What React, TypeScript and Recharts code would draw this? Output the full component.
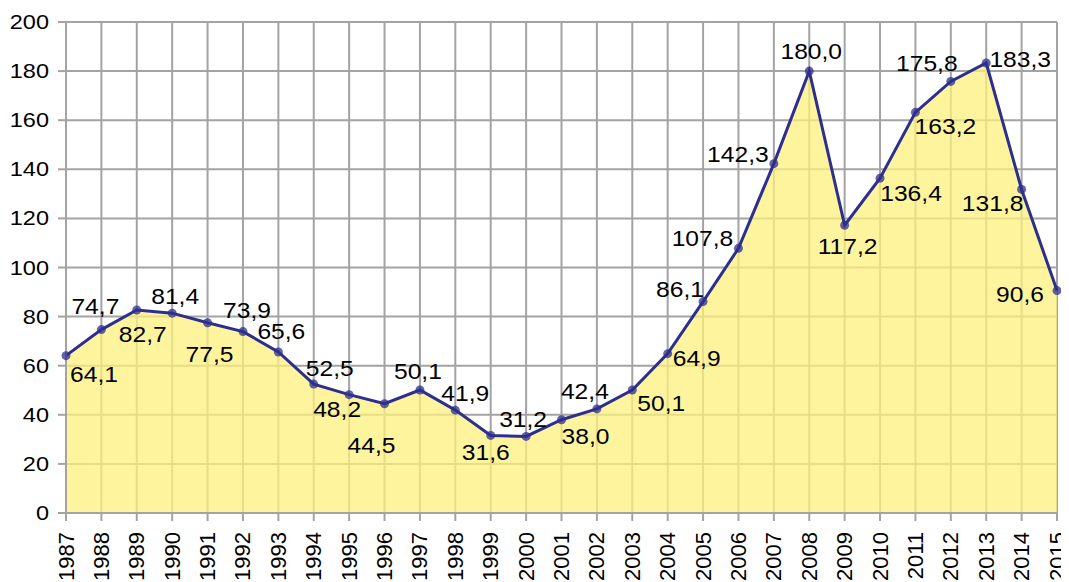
import {
  ComposedChart,
  Area,
  XAxis,
  YAxis,
  CartesianGrid,
  LabelList,
} from "recharts";

const YEARS = [
  "1987", "1988", "1989", "1990", "1991", "1992", "1993", "1994", "1995", "1996",
  "1997", "1998", "1999", "2000", "2001", "2002", "2003", "2004", "2005", "2006",
  "2007", "2008", "2009", "2010", "2011", "2012", "2013", "2014", "2015",
];

const VALUES = [
  64.1, 74.7, 82.7, 81.4, 77.5, 73.9, 65.6, 52.5, 48.2, 44.5,
  50.1, 41.9, 31.6, 31.2, 38.0, 42.4, 50.1, 64.9, 86.1, 107.8,
  142.3, 180.0, 117.2, 136.4, 163.2, 175.8, 183.3, 131.8, 90.6,
];

const Y_TICKS = [0, 20, 40, 60, 80, 100, 120, 140, 160, 180, 200];

// where each value label sits relative to its point (text centre)
const LABEL_OFFSETS: [number, number][] = [
  [28, 19], [-6, -23], [6, 24], [3, -17], [2, 32], [4, -21], [3, -20], [16, -16],
  [-12, 15], [-13, 42], [-2, -19], [10, -17], [-5, 17], [-3, -17], [24, 17],
  [-12, -17], [29, 13], [29, 5], [-23, -12], [-36, -10], [-36, -9], [2, -20],
  [3, 21], [31, 15], [30, 14], [-24, -18], [34, -4], [-29, 14], [-37, 4],
];

const data = YEARS.map((year, i) => ({ year, value: VALUES[i] }));

const FONT = "'Liberation Sans', Arial, sans-serif";
const GRID = "#a3a3a3";
const LINE = "#2d2f8e";
const STRETCH = 1.12; // the source text is a bit wider than plain Arial

function fmt(v: number) {
  return v.toFixed(1).replace(".", ",");
}

// eslint-disable-next-line @typescript-eslint/no-explicit-any
function ValueLabel(props: any) {
  const { x, y, value, index } = props;
  const [dx, dy] = LABEL_OFFSETS[index] ?? [0, -16];
  return (
    <text
      transform={`translate(${x + dx},${y + dy}) scale(${STRETCH},1)`}
      textAnchor="middle"
      dominantBaseline="central"
      fontSize={22}
      fontFamily={FONT}
      fill="#000"
    >
      {fmt(value)}
    </text>
  );
}

// eslint-disable-next-line @typescript-eslint/no-explicit-any
function ValueTick({ x, y, payload }: any) {
  return (
    <text
      transform={`translate(${x - 7},${y}) scale(${STRETCH},1)`}
      textAnchor="end"
      dominantBaseline="central"
      fontSize={21}
      fontFamily={FONT}
      fill="#000"
    >
      {payload.value}
    </text>
  );
}

// eslint-disable-next-line @typescript-eslint/no-explicit-any
function YearTick({ x, y, payload }: any) {
  return (
    <text
      transform={`translate(${x},${y + 9}) rotate(-90)`}
      textAnchor="end"
      dominantBaseline="central"
      fontSize={22}
      fontFamily={FONT}
      fill="#000"
    >
      {payload.value}
    </text>
  );
}

export default function App() {
  return (
    <div style={{ width: 1061, height: 574 }}>
      <ComposedChart
        width={1061}
        height={574}
        data={data}
        margin={{ top: 14, right: 12, bottom: 0, left: 0 }}
      >
        <CartesianGrid stroke={GRID} strokeWidth={2} />
        <XAxis
          dataKey="year"
          height={69}
          interval={0}
          tick={<YearTick />}
          tickSize={8}
          stroke={GRID}
          axisLine={{ stroke: GRID, strokeWidth: 2 }}
          tickLine={{ stroke: GRID, strokeWidth: 2 }}
        />
        <YAxis
          width={58}
          domain={[0, 200]}
          ticks={Y_TICKS}
          interval={0}
          tickSize={8}
          tickMargin={2}
          stroke={GRID}
          axisLine={{ stroke: GRID, strokeWidth: 2 }}
          tickLine={{ stroke: GRID, strokeWidth: 2 }}
          tick={<ValueTick />}
        />
        <Area
          type="linear"
          dataKey="value"
          stroke={LINE}
          strokeWidth={3}
          fill="#fff07e"
          fillOpacity={0.75}
          dot={{ r: 4.5, fill: LINE, stroke: "none" }}
          activeDot={false}
          isAnimationActive={false}
        >
          <LabelList dataKey="value" content={<ValueLabel />} />
        </Area>
      </ComposedChart>
    </div>
  );
}
